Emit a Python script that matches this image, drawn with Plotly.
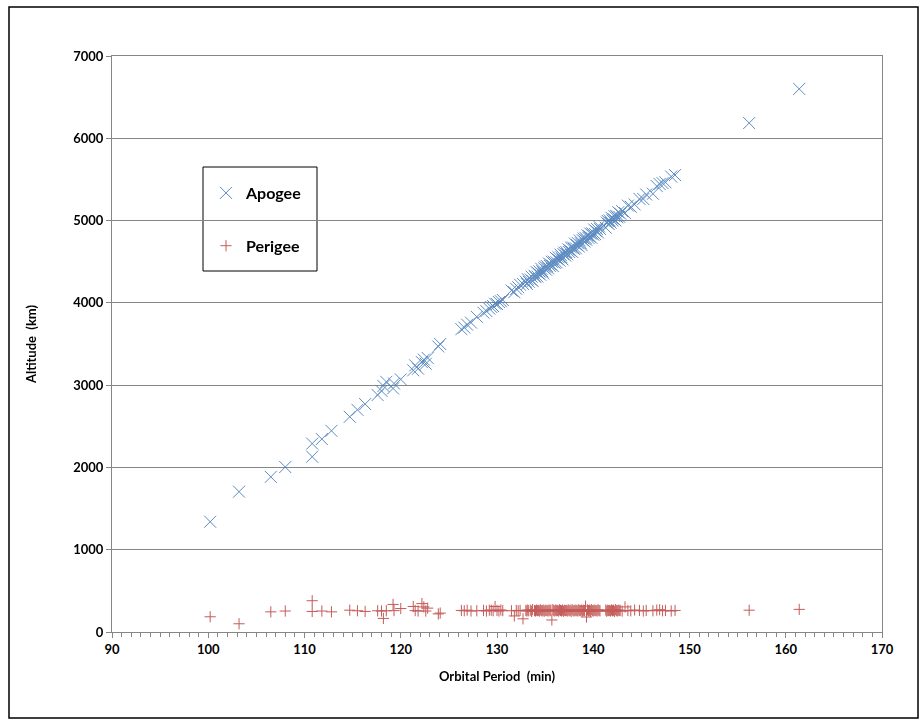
import plotly.graph_objects as go

# ---------------- data ----------------
period = [
    100.2, 103.2, 106.5, 108.0, 110.8, 110.8, 111.8, 112.8, 114.7, 115.5,
    116.3, 117.6, 118.0, 118.2, 118.5, 119.2, 119.3, 120.0, 121.3, 121.5,
    121.8, 122.2, 122.4, 122.6, 122.8, 123.9, 124.1,
    126.3, 126.6, 126.9, 127.3, 127.9, 128.6, 128.9, 129.2, 129.4, 129.6,
    129.8, 130.0, 130.2, 130.4, 130.6,
    131.5, 131.8, 132.0, 132.2, 132.4, 132.7,
    133.0, 133.1, 133.2, 133.3, 133.5, 133.6, 133.7, 133.9, 134.0, 134.1,
    134.2, 134.3, 134.4, 134.5, 134.6, 134.7, 134.8, 134.9, 135.0, 135.1,
    135.2, 135.3, 135.4, 135.5, 135.6, 135.7, 135.8, 135.9, 136.0, 136.1,
    136.2, 136.3, 136.4, 136.5, 136.6, 136.7, 136.8, 136.9, 137.0, 137.1,
    137.2, 137.3, 137.4, 137.5, 137.6, 137.7, 137.8, 137.9, 138.0, 138.1,
    138.2, 138.3, 138.4, 138.5, 138.6, 138.7, 138.8, 138.9, 139.0, 139.1,
    139.2, 139.3, 139.4, 139.5, 139.6, 139.7, 139.8, 139.9, 140.0, 140.1,
    140.2, 140.3, 140.4, 140.5, 140.6, 140.7, 141.3, 141.4, 141.5, 141.6,
    141.7, 141.8, 141.9, 142.0, 142.1, 142.2, 142.3, 142.4, 142.5, 142.6,
    142.7, 142.8, 143.0, 143.3, 143.6, 143.9, 144.3, 144.8, 145.2, 145.5,
    146.2, 146.6, 146.9, 147.2, 147.5, 148.1, 148.5,
    156.2, 161.4,
]

apogee = [
    1340, 1705, 1885, 2005, 2130, 2290, 2345, 2445, 2615, 2700,
    2770, 2880, 2930, 2990, 3040, 2960, 3020, 3070, 3180, 3240,
    3200, 3280, 3310, 3260, 3330, 3470, 3500,
    3680, 3700, 3735, 3760, 3830, 3880, 3900, 3930, 3950, 3960,
    3990, 3985, 4010, 4020, 4035,
    4150, 4130, 4170, 4190, 4220, 4230,
    4256, 4230, 4288, 4257, 4284, 4318, 4266, 4329, 4312, 4376,
    4320, 4358, 4382, 4341, 4414, 4383, 4357, 4420, 4439, 4403,
    4446, 4420, 4478, 4447, 4465, 4499, 4448, 4501, 4485, 4548,
    4492, 4531, 4554, 4513, 4586, 4555, 4528, 4592, 4611, 4574,
    4618, 4591, 4650, 4618, 4637, 4671, 4619, 4673, 4656, 4720,
    4663, 4702, 4726, 4684, 4758, 4726, 4700, 4763, 4782, 4745,
    4789, 4763, 4821, 4790, 4808, 4842, 4791, 4844, 4828, 4891,
    4835, 4873, 4897, 4855, 4929, 4897, 4913, 4976, 4995, 4958,
    5002, 4975, 5033, 5002, 5020, 5054, 5002, 5056, 5039, 5102,
    5046, 5084, 5116, 5091, 5182, 5167, 5196, 5263, 5262, 5317,
    5326, 5419, 5444, 5455, 5465, 5535, 5553,
    6185, 6600,
]

perigee = [
    185, 100, 245, 255, 380, 250, 255, 245, 265, 258,
    250, 258, 255, 165, 258, 335, 260, 285, 310, 260,
    255, 345, 305, 255, 290, 220, 230,
    262, 258, 265, 255, 258, 262, 255, 265, 265, 258,
    310, 262, 255, 268, 260,
    258, 195, 262, 258, 262, 160,
    262, 255, 268, 258, 265, 250, 272, 260, 256, 266,
    259, 263, 254, 270, 261, 257, 267, 252, 264, 260,
    262, 255, 268, 258, 265, 146, 272, 260, 256, 266,
    259, 263, 254, 270, 261, 257, 267, 252, 264, 260,
    262, 255, 268, 258, 265, 250, 272, 260, 256, 266,
    259, 263, 254, 270, 261, 257, 267, 252, 264, 260,
    315, 182, 268, 258, 265, 250, 272, 260, 256, 266,
    259, 263, 254, 270, 261, 257, 267, 252, 264, 260,
    262, 255, 268, 258, 265, 250, 272, 260, 256, 266,
    259, 263, 254, 305, 261, 257, 267, 262, 255, 262,
    258, 266, 270, 258, 262, 255, 262,
    265, 275,
]

x_ticks = [90, 100, 110, 120, 130, 140, 150, 160, 170]
y_ticks = [0, 1000, 2000, 3000, 4000, 5000, 6000, 7000]

# ---------------- layout geometry ----------------
W, H = 923, 722
L, R, T, B = 112, 882, 56, 632          # plot area in pixels
pw, ph = R - L, B - T


def px(xp):
    return (xp - L) / pw


def py(yp):
    return (B - yp) / ph


FONT = "Lato, Open Sans, sans-serif"
BLUE = "#4A7EBB"
RED = "#BE4B48"
GREY = "#868686"

fig = go.Figure()
fig.add_trace(go.Scatter(
    x=period, y=apogee, mode="markers", name="Apogee", legendgroup="a",
    marker=dict(symbol="x-thin", size=12, color=BLUE,
                line=dict(color=BLUE, width=1)),
    opacity=0.9,
))
fig.add_trace(go.Scatter(
    x=period, y=perigee, mode="markers", name="Perigee", legendgroup="p",
    marker=dict(symbol="cross-thin", size=8, color=RED,
                line=dict(color=RED, width=1)),
    opacity=0.9,
))

fig.update_layout(
    width=W, height=H,
    margin=dict(l=L, r=W - R, t=T, b=H - B, autoexpand=False),
    paper_bgcolor="white", plot_bgcolor="white",
    font=dict(family=FONT, color="black"),
    showlegend=True,
    legend=dict(
        x=px(206), y=py(176), xanchor="left", yanchor="top",
        bgcolor="rgba(0,0,0,0)", borderwidth=0,
        font=dict(family=FONT, size=16, color="black", weight="bold"),
        tracegroupgap=29,
    ),
    xaxis=dict(
        range=[90, 170], tickvals=x_ticks, ticktext=[str(v) for v in x_ticks],
        showgrid=False, zeroline=False,
        showline=True, linecolor=GREY, linewidth=1, mirror=True,
        ticks="outside", ticklen=5, tickcolor=GREY,
        minor=dict(dtick=1, ticks="outside", ticklen=4, tickcolor=GREY,
                   showgrid=False),
        tickfont=dict(family=FONT, size=13, color="black", weight="bold"),
        title=dict(text="Orbital Period  (min)", standoff=16,
                   font=dict(family=FONT, size=13, color="black",
                             weight="bold")),
    ),
    yaxis=dict(
        range=[0, 7000], tickvals=y_ticks, ticktext=[str(v) for v in y_ticks],
        showgrid=True, gridcolor=GREY, gridwidth=1, zeroline=False,
        showline=True, linecolor=GREY, linewidth=1, mirror=True,
        ticks="outside", ticklen=5, tickcolor=GREY,
        tickfont=dict(family=FONT, size=13, color="black", weight="bold"),
        title=dict(text="Altitude  (km)", standoff=33,
                   font=dict(family=FONT, size=13, color="black",
                             weight="bold")),
    ),
    shapes=[
        # outer chart frame
        dict(type="rect", xref="paper", yref="paper",
             x0=px(9), x1=px(918), y0=py(718), y1=py(7),
             line=dict(color="black", width=1.5), fillcolor="rgba(0,0,0,0)",
             layer="above"),
        # legend box
        dict(type="rect", xref="paper", yref="paper",
             x0=px(203), x1=px(317), y0=py(271), y1=py(167),
             line=dict(color="black", width=1), fillcolor="white",
             layer="below"),
    ],
)

fig.write_html(
    "out.html",
    config={"displayModeBar": False},
    post_script="document.body.style.margin='0px';"
                "document.body.style.overflow='hidden';",
)
